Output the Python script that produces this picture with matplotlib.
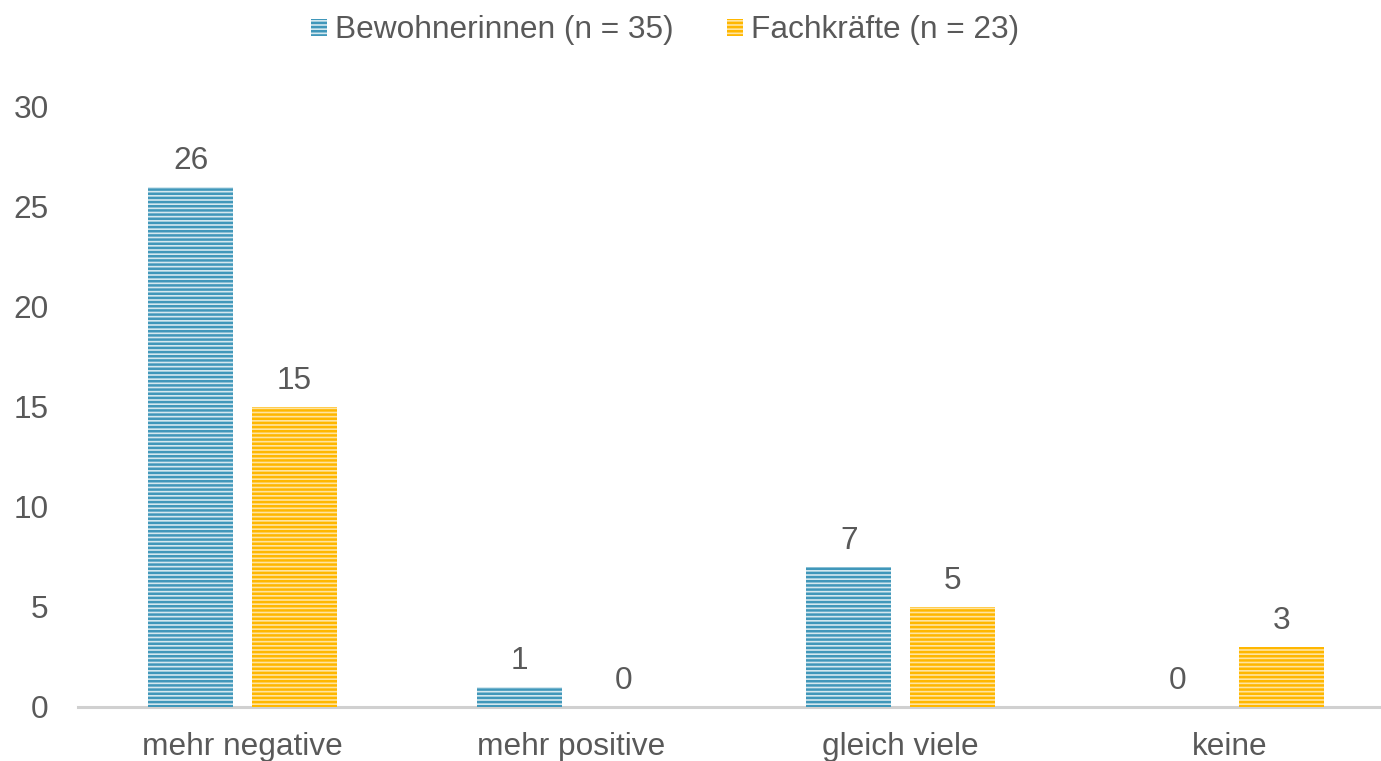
import matplotlib
matplotlib.use("Agg")
import matplotlib.pyplot as plt
import numpy as np

categories = ["mehr negative", "mehr positive", "gleich viele", "keine"]
bewohnerinnen = [26, 1, 7, 0]
fachkraefte = [15, 0, 5, 3]
series_labels = ["Bewohnerinnen (n = 35)", "Fachkräfte (n = 23)"]

plt.rcParams["font.family"] = ["Liberation Sans", "DejaVu Sans"]
plt.rcParams["hatch.linewidth"] = 1.8

text_gray = "#595959"
fs = 22.8

fig = plt.figure(figsize=(13.81, 7.61), dpi=100)
# the plot area runs a little past the right edge of the figure
ax = fig.add_axes([78 / 1381, 0.0710, 1316 / 1381, 0.7884])

x = np.arange(len(categories))
w = 0.258
off = 0.157

styles = [
    dict(facecolor="#D4E8EF", edgecolor="#4097BA"),
    dict(facecolor="#FFE4A0", edgecolor="#FFB700"),
]

for vals, dx, st, lab in zip([bewohnerinnen, fachkraefte], [-off, off], styles, series_labels):
    bars = ax.bar(x + dx, vals, w, hatch="----", linewidth=0, label=lab, **st)
    for b, v in zip(bars, vals):
        ax.annotate(str(v), (b.get_x() + b.get_width() / 2, v),
                    xytext=(0, 8), textcoords="offset points",
                    ha="center", va="bottom", fontsize=fs, color=text_gray)

ax.set_xlim(-0.5, len(categories) - 0.5)
ax.set_ylim(0, 30)
ax.set_yticks(range(0, 31, 5))
ax.set_xticks(x)
ax.set_xticklabels(categories)
ax.tick_params(axis="both", length=0, labelsize=fs, colors=text_gray)
ax.tick_params(axis="y", pad=21)
ax.tick_params(axis="x", pad=18)

for s in ["top", "right", "left"]:
    ax.spines[s].set_visible(False)
ax.spines["bottom"].set_color("#D0D0D0")
ax.spines["bottom"].set_linewidth(2.2)
ax.spines["bottom"].set_zorder(0)

leg = fig.legend(loc="center", bbox_to_anchor=(665 / 1381, 0.960), ncol=2,
                 frameon=False, fontsize=fs, handlelength=0.5, handleheight=0.45,
                 handletextpad=0.25, columnspacing=1.7)
for t in leg.get_texts():
    t.set_color(text_gray)

fig.savefig("out.png", dpi=100)
